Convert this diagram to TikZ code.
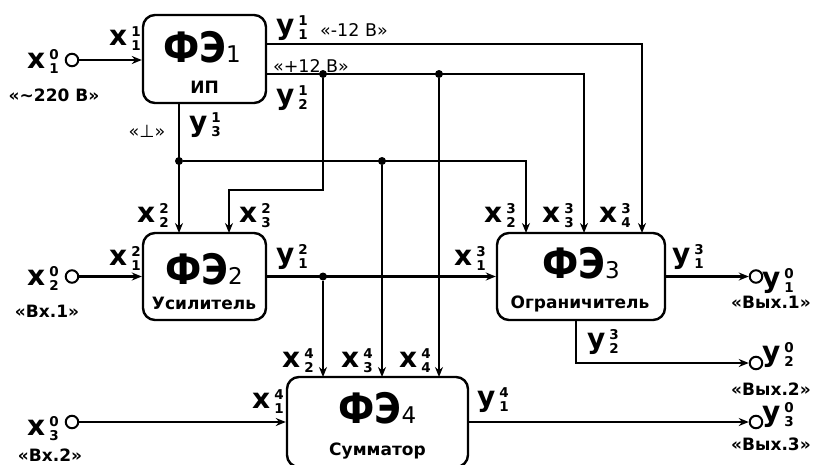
\documentclass[tikz,border=0pt]{standalone}
\usepackage{fontspec}
\setmainfont{DejaVu Sans}
\newfontfamily\titlefont[FakeStretch=0.87]{DejaVu Sans}
\usetikzlibrary{arrows.meta,positioning}

\newcommand{\digs}{\fontsize{13.5}{13.5}\selectfont\bfseries}
\newcommand{\sig}[3]{#1\kern4pt\makebox[0pt][l]{\raisebox{9pt}{\digs #3}}\raisebox{-5pt}{\digs #2}}
\newcommand{\fename}[1]{{\titlefont\fontsize{42}{42}\selectfont\bfseries ФЭ}{\fontsize{23}{23}\selectfont #1}}

\begin{document}
\begin{tikzpicture}[
  x=1pt,y=-1pt,
  fe/.style={rectangle,rounded corners=12pt,draw,line width=2.4pt,inner sep=0pt},
  fetitle/.style={inner sep=0pt,anchor=base},
  fesub/.style={inner sep=0pt,anchor=base,font=\fontsize{17}{17}\selectfont\bfseries},
  port/.style={circle,draw,line width=2pt,minimum size=12.5pt,inner sep=0pt},
  dot/.style={circle,fill,minimum size=8pt,inner sep=0pt},
  sig/.style={inner sep=0pt,anchor=base west,font=\fontsize{28}{28}\selectfont\bfseries},
  note/.style={inner sep=0pt,font=\fontsize{17.5}{17.5}\selectfont},
  bnote/.style={note,font=\fontsize{17}{17}\selectfont\bfseries},
  arr/.style={-{Stealth[length=10pt,width=8pt]},line width=2.1pt}
]
  \useasboundingbox (0,0) rectangle (814,464);

  % functional elements
  \node[fe,minimum width=123pt,minimum height=88pt] (fe1) at (204.5,59) {};
  \node[fe,minimum width=123pt,minimum height=87pt] (fe2) at (204.5,276.5) {};
  \node[fe,minimum width=168pt,minimum height=87pt] (fe3) at (581,276.5) {};
  \node[fe,minimum width=181pt,minimum height=90pt] (fe4) at (377.5,422) {};

  \node[fetitle] (fe1t) at (202,62) {\fename{1}};
  \node[fesub] (fe1s) at (204.5,93) {ИП};
  \node[fetitle] (fe2t) at (204,284) {\fename{2}};
  \node[fesub] (fe2s) at (204,309) {Усилитель};
  \node[fetitle] (fe3t) at (581,278) {\fename{3}};
  \node[fesub] (fe3s) at (580,308) {Ограничитель};
  \node[fetitle] (fe4t) at (377.5,423) {\fename{4}};
  \node[fesub] (fe4s) at (377.5,455) {Сумматор};

  % inputs and outputs
  \node[port] (in1) at (72,60) {};
  \node[port] (in2) at (72,276.5) {};
  \node[port] (in3) at (72,422) {};
  \node[port] (out1) at (756,276.5) {};
  \node[port] (out2) at (756,363) {};
  \node[port] (out3) at (756,422) {};

  % junctions
  \node[dot] (j1) at (323,74) {};
  \node[dot] (j2) at (439,74) {};
  \node[dot] (j3) at (179,161) {};
  \node[dot] (j4) at (382,161) {};
  \node[dot] (j5) at (323,276.5) {};

  \coordinate (o11) at (266,44);
  \coordinate (o12) at (266,74);
  \coordinate (o13) at (179,103);
  \coordinate (o32) at (576,320);
  \coordinate (bend) at (323,190);
  \coordinate (i22) at (179,233);
  \coordinate (i23) at (229,233);
  \coordinate (i32) at (526,233);
  \coordinate (i33) at (584,233);
  \coordinate (i34) at (642,233);
  \coordinate (i42) at (323,377);
  \coordinate (i43) at (382,377);
  \coordinate (i44) at (439,377);

  % connections
  \draw[arr] (in1) -- (in1 -| fe1.west);
  \draw[arr] (o11) -| (i34);
  \draw[arr] (o12) -| (i33);
  \draw[arr] (j1) -- (bend) -| (i23);
  \draw[arr] (j2) -- (i44);
  \draw[arr] (o13) -- (i22);
  \draw[arr] (j3) -| (i32);
  \draw[arr] (j4) -- (i43);
  \draw[arr] (in2) -- (fe2);
  \draw[arr] (fe2) -- (fe3);
  \draw[arr] (j5) -- (i42);
  \draw[arr] (fe3) -- (out1);
  \draw[arr] (o32) |- (out2);
  \draw[arr] (in3) -- (fe4);
  \draw[arr] (fe4) -- (out3);

  % signal labels
  \node[sig] (x10) at (27,68) {\sig{x}{1}{0}};
  \node[sig] (x11) at (109,45) {\sig{x}{1}{1}};
  \node[sig] (y11) at (276,34) {\sig{y}{1}{1}};
  \node[sig] (y12) at (276,104) {\sig{y}{2}{1}};
  \node[sig] (y13) at (189,131) {\sig{y}{3}{1}};
  \node[sig] (x22) at (137,222) {\sig{x}{2}{2}};
  \node[sig] (x23) at (239,222) {\sig{x}{3}{2}};
  \node[sig] (x21) at (109,265) {\sig{x}{1}{2}};
  \node[sig] (x20) at (27,285) {\sig{x}{2}{0}};
  \node[sig] (y21) at (276,263) {\sig{y}{1}{2}};
  \node[sig] (x32) at (484,222) {\sig{x}{2}{3}};
  \node[sig] (x33) at (542,222) {\sig{x}{3}{3}};
  \node[sig] (x34) at (599,222) {\sig{x}{4}{3}};
  \node[sig] (x31) at (454,265) {\sig{x}{1}{3}};
  \node[sig] (y31) at (672,263) {\sig{y}{1}{3}};
  \node[sig] (y32) at (587,348) {\sig{y}{2}{3}};
  \node[sig] (y10) at (762,287) {\sig{y}{1}{0}};
  \node[sig] (y20) at (762,361) {\sig{y}{2}{0}};
  \node[sig] (y30) at (762,421) {\sig{y}{3}{0}};
  \node[sig] (x42) at (282,367) {\sig{x}{2}{4}};
  \node[sig] (x43) at (341,367) {\sig{x}{3}{4}};
  \node[sig] (x44) at (399,367) {\sig{x}{4}{4}};
  \node[sig] (x41) at (252,408) {\sig{x}{1}{4}};
  \node[sig] (x30) at (27,435) {\sig{x}{3}{0}};
  \node[sig] (y41) at (477,406) {\sig{y}{1}{4}};

  % notes
  \node[bnote] (n220) at (54,95) {«\textasciitilde220 В»};
  \node[note] (nm12) at (354,30) {«-12 В»};
  \node[note] (np12) at (311,66) {«+12 В»};
  \node[note] (ngnd) at (147,131) {«⊥»};
  \node[bnote] (nin1) at (47,311) {«Вх.1»};
  \node[bnote] (nin2) at (50,455) {«Вх.2»};
  \node[bnote] (nout1) at (771,302) {«Вых.1»};
  \node[bnote] (nout2) at (771,389) {«Вых.2»};
  \node[bnote] (nout3) at (771,444) {«Вых.3»};
\end{tikzpicture}
\end{document}
